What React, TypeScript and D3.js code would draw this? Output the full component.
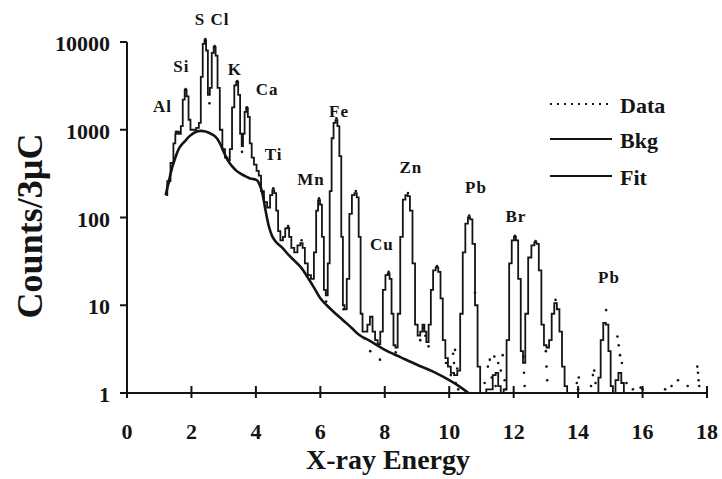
import React from 'react';
import * as d3 from 'd3';

const W = 722;
const H = 479;

const xTicks = [0, 2, 4, 6, 8, 10, 12, 14, 16, 18];
const yTicks = [1, 10, 100, 1000, 10000];

// smooth background under the peaks
const bkgEnergy = [1.2, 1.3, 1.4, 1.5, 1.6, 1.7, 1.8, 1.9, 2.0, 2.1, 2.2, 2.3, 2.4, 2.5, 2.6, 2.7, 2.8, 2.9, 3.0, 3.1, 3.2, 3.3, 3.4, 3.5, 3.6, 3.7, 3.8, 3.9, 4.0, 4.1, 4.2, 4.3, 4.4, 4.5, 4.6, 4.8, 5.0, 5.2, 5.4, 5.6, 5.8, 6.0, 6.2, 6.4, 6.6, 6.8, 7.0, 7.2, 7.5, 8.0, 8.5, 9.0, 9.5, 10.0, 10.3, 10.6];
const bkgCounts = [180, 260, 370, 480, 600, 680, 740, 820, 880, 930, 960, 970, 960, 935, 900, 860, 790, 680, 560, 470, 410, 370, 340, 320, 305, 292, 280, 275, 270, 245, 190, 120, 80, 62, 54, 46, 38, 32, 27, 21, 16, 12, 10, 8.5, 7.3, 6.3, 5.4, 4.6, 4.0, 3.1, 2.55, 2.1, 1.75, 1.4, 1.2, 1.0];

// fitted spectrum (stepped)
const fitEnergy = [1.20, 1.30, 1.40, 1.48, 1.52, 1.58, 1.64, 1.70, 1.76, 1.82, 1.88, 1.94, 2.00, 2.10, 2.20, 2.26, 2.32, 2.38, 2.43, 2.48, 2.54, 2.60, 2.66, 2.72, 2.78, 2.84, 2.92, 3.00, 3.08, 3.16, 3.22, 3.30, 3.36, 3.42, 3.48, 3.54, 3.58, 3.62, 3.68, 3.72, 3.78, 3.84, 3.90, 3.98, 4.06, 4.12, 4.20, 4.30, 4.40, 4.48, 4.54, 4.60, 4.66, 4.72, 4.80, 4.88, 4.94, 5.00, 5.06, 5.14, 5.24, 5.34, 5.42, 5.48, 5.56, 5.66, 5.76, 5.84, 5.90, 5.96, 6.02, 6.08, 6.14, 6.20, 6.26, 6.32, 6.38, 6.44, 6.50, 6.56, 6.62, 6.68, 6.72, 6.78, 6.86, 6.94, 7.02, 7.10, 7.16, 7.22, 7.28, 7.34, 7.42, 7.50, 7.58, 7.66, 7.74, 7.82, 7.90, 7.98, 8.06, 8.12, 8.18, 8.24, 8.30, 8.36, 8.44, 8.52, 8.60, 8.68, 8.74, 8.82, 8.90, 8.98, 9.06, 9.14, 9.20, 9.26, 9.32, 9.40, 9.46, 9.54, 9.62, 9.70, 9.76, 9.84, 9.92, 10.00, 10.10, 10.20, 10.30, 10.38, 10.46, 10.54, 10.62, 10.68, 10.76, 10.84, 10.92, 11.00, 11.30, 11.40, 11.48, 11.56, 11.64, 11.74, 11.82, 11.90, 11.98, 12.04, 12.10, 12.18, 12.26, 12.32, 12.40, 12.50, 12.60, 12.68, 12.74, 12.82, 12.90, 12.98, 13.06, 13.14, 13.22, 13.30, 13.38, 13.46, 13.54, 13.62, 13.70, 14.60, 14.66, 14.74, 14.82, 14.90, 14.98, 15.04, 15.12, 15.20, 15.30, 15.38, 15.46];
const fitCounts = [180, 260, 420, 700, 900, 950, 900, 1100, 2200, 2850, 2400, 1300, 1000, 1000, 1050, 1200, 4000, 9500, 10500, 8000, 2500, 3000, 7500, 8800, 7000, 3000, 1000, 600, 480, 450, 600, 1800, 3200, 3500, 2500, 900, 650, 900, 1600, 1770, 1400, 700, 480, 400, 340, 300, 200, 150, 130, 180, 205, 190, 120, 70, 55, 60, 75, 76, 60, 45, 40, 48, 51, 45, 30, 22, 20, 40, 120, 158, 140, 60, 15, 13, 30, 200, 800, 1200, 1290, 1100, 500, 60, 10, 9, 20, 110, 180, 190, 170, 60, 8, 5, 5, 6, 7.4, 5, 4, 3.6, 5, 15, 22, 23, 20, 8, 3.5, 3.3, 8, 60, 160, 180, 175, 120, 30, 6, 4.5, 5, 6, 5, 3.8, 6, 15, 25, 27, 24, 12, 4, 2.5, 2.0, 1.7, 1.6, 1.8, 8, 40, 85, 100, 95, 50, 10, 2, 1, 1.1, 1.6, 1.7, 1.2, 1.0, 1.1, 4, 30, 55, 60, 55, 20, 3, 2.2, 8, 35, 48, 52, 50, 25, 6, 3.5, 3.3, 4, 8, 10.6, 9, 5, 2, 1.2, 1.0, 1.0, 1.5, 4, 6.3, 6.0, 3, 1.2, 1.0, 1.4, 1.7, 1.3, 1.0];

// measured data points (dotted)
const dataEnergy = [1.30, 1.52, 1.82, 2.43, 2.56, 2.72, 3.42, 3.57, 3.72, 4.54, 5.00, 5.42, 5.96, 6.18, 6.50, 6.72, 7.10, 7.36, 7.55, 7.85, 8.12, 8.34, 8.72, 9.10, 9.20, 9.26, 9.36, 9.62, 9.90, 10.05, 10.12, 10.15, 10.18, 10.20, 10.25, 10.28, 10.62, 10.80, 11.10, 11.20, 11.26, 11.32, 11.40, 11.44, 11.52, 11.60, 11.66, 11.72, 11.76, 12.04, 12.30, 12.32, 12.34, 12.68, 13.00, 13.02, 13.04, 13.30, 13.96, 14.00, 14.02, 14.40, 14.46, 14.50, 14.54, 14.87, 15.22, 15.26, 15.30, 15.36, 15.50, 15.70, 15.94, 16.00, 16.70, 16.90, 17.10, 17.40, 17.70, 17.72, 17.74, 17.76];
const dataCounts = [250, 950, 2900, 10800, 2000, 9000, 3600, 560, 1800, 215, 80, 55, 165, 11, 1350, 9, 200, 4.2, 3.0, 2.4, 24, 2.9, 190, 4.0, 5.5, 4.5, 3.4, 28, 2.2, 1.6, 2.8, 2.2, 3.1, 1.3, 1.9, 1.1, 105, 14, 1.3, 2.0, 2.4, 1.5, 2.6, 1.2, 2.2, 1.8, 2.7, 1.4, 1.1, 62, 2.6, 1.7, 1.2, 54, 3.0, 2.0, 1.4, 11.5, 1.3, 1.1, 1.5, 1.2, 1.6, 1.8, 1.3, 8.8, 4.4, 3.5, 2.7, 2.2, 1.3, 1.1, 1.15, 1.1, 1.1, 1.2, 1.4, 1.2, 2.0, 1.7, 1.4, 1.2];

// element labels placed in data units
const peakNames = ['S Cl', 'Si', 'Al', 'K', 'Ca', 'Ti', 'Mn', 'Fe', 'Zn', 'Cu', 'Pb', 'Br', 'Pb'];
const peakEnergy = [2.64, 1.69, 1.10, 3.35, 4.35, 4.55, 5.71, 6.58, 8.81, 7.91, 10.83, 12.07, 14.96];
const peakCounts = [15600, 4550, 1590, 4200, 2490, 452, 234, 1397, 321, 42.6, 190, 89, 17.9];

const legendLabels = ['Data', 'Bkg', 'Fit'];

const FONT = '"Liberation Serif", "Times New Roman", serif';
const INK = '#141414';

export default function App() {
    const x = d3.scaleLinear().domain([0, 18]).range([127, 707]);
    const y = d3.scaleLog().domain([1, 10000]).range([393, 42]);

    const bkgLine = d3.line<number>()
        .x(i => x(bkgEnergy[i]))
        .y(i => y(bkgCounts[i]))
        .curve(d3.curveMonotoneX);

    const fitLine = d3.line<number>()
        .x(i => x(fitEnergy[i]))
        .y(i => y(Math.max(1, fitCounts[i])))
        .curve(d3.curveStep);

    const x0 = x(0);
    const yBase = y(1);

    return (
        <svg
            width={W}
            height={H}
            style={{ position: 'absolute', left: 0, top: 0, background: '#fff' }}
            fontFamily={FONT}
            fontWeight="bold"
        >
            <rect width={W} height={H} fill="#fff" />

            {/* data dots */}
            {dataEnergy.map((e, i) => (
                <circle key={'d' + i} cx={x(e)} cy={y(dataCounts[i])} r={1.3} fill={INK} />
            ))}

            {/* background */}
            <path d={bkgLine(d3.range(bkgEnergy.length)) || ''} fill="none" stroke={INK} strokeWidth={2.6} strokeLinejoin="round" />

            {/* fit */}
            <path d={fitLine(d3.range(fitEnergy.length)) || ''} fill="none" stroke={INK} strokeWidth={1.8} />

            {/* axes */}
            <line x1={x0} x2={x0} y1={y(10000)} y2={yBase} stroke={INK} strokeWidth={2} />
            <line x1={x0 - 6} x2={x(18)} y1={yBase} y2={yBase} stroke={INK} strokeWidth={2} />
            {yTicks.map(t => (
                <g key={'y' + t}>
                    <line x1={x0 - 7} x2={x0} y1={y(t)} y2={y(t)} stroke={INK} strokeWidth={2} />
                    <text x={x0 - 17} y={y(t) + 9} textAnchor="end" fontSize={22} fill={INK}>{t}</text>
                </g>
            ))}
            {xTicks.map(t => (
                <g key={'x' + t}>
                    <line x1={x(t)} x2={x(t)} y1={yBase - 7} y2={yBase + 5} stroke={INK} strokeWidth={2} />
                    <text x={x(t)} y={439} textAnchor="middle" fontSize={22} fill={INK}>{t}</text>
                </g>
            ))}

            {/* axis titles */}
            <text x={388} y={469} textAnchor="middle" fontSize={28} fill={INK}>X-ray Energy</text>
            <text transform="translate(42,226) rotate(-90)" textAnchor="middle" fontSize={36} fill={INK}>Counts/3µC</text>

            {/* peak labels */}
            {peakNames.map((n, i) => (
                <text key={'p' + i} x={x(peakEnergy[i])} y={y(peakCounts[i])} textAnchor="middle" fontSize={17} letterSpacing={1} fill={INK}>{n}</text>
            ))}

            {/* legend */}
            {legendLabels.map((l, i) => {
                const ly = [104, 139, 176][i];
                return (
                    <g key={l}>
                        <line x1={550} x2={612} y1={ly} y2={ly} stroke={INK}
                            strokeWidth={i === 0 ? 2 : 2.2}
                            strokeDasharray={i === 0 ? '2 5' : undefined} />
                        <text x={620} y={ly + 9} fontSize={22} fill={INK}>{l}</text>
                    </g>
                );
            })}
        </svg>
    );
}
